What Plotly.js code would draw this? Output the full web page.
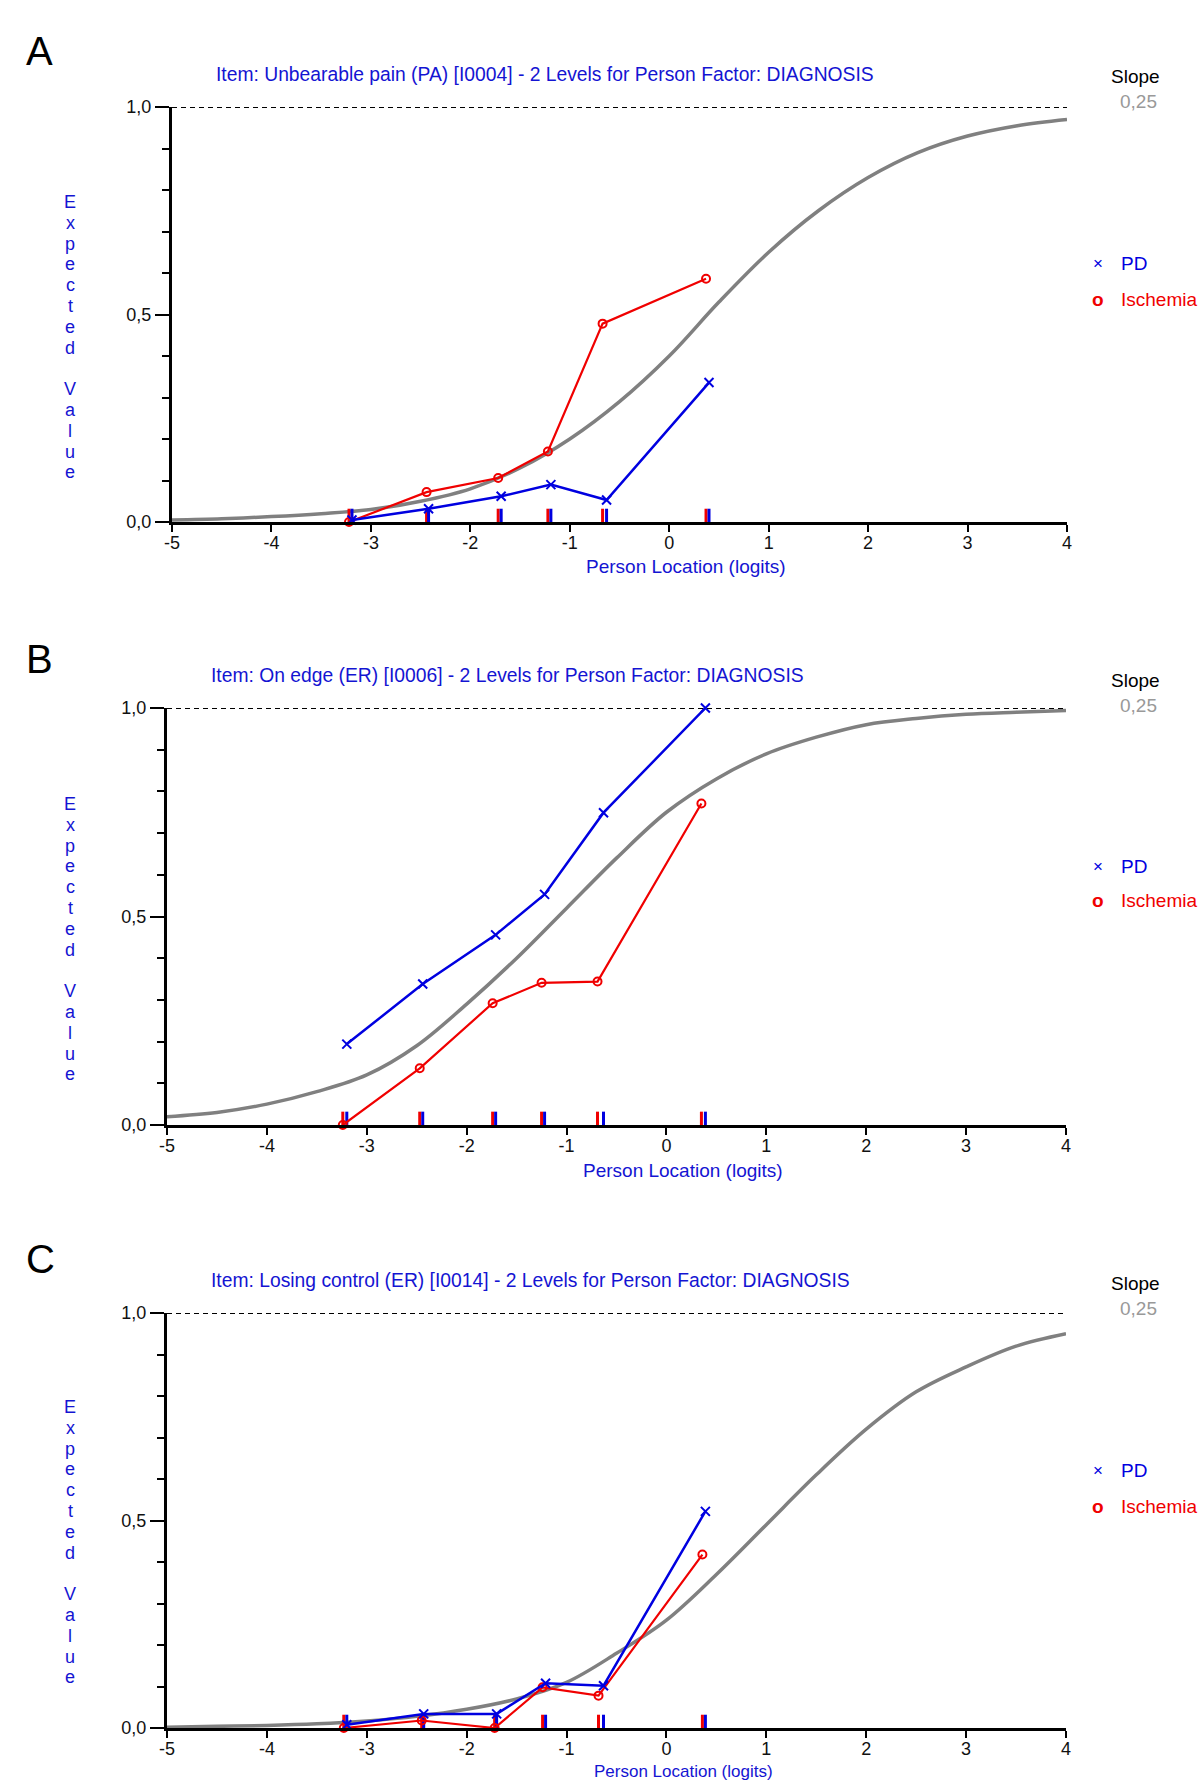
<!DOCTYPE html>
<html><head><meta charset="utf-8">
<script src="https://cdn.plot.ly/plotly-3.0.1.min.js"></script>
<style>html,body{margin:0;padding:0;background:#fff}#chart{width:1200px;height:1781px}</style>
</head><body><div id="chart"></div>
<script>
// ---------- data ----------
const xTickVals = [-5, -4, -3, -2, -1, 0, 1, 2, 3, 4];
const xTickLabels = ["-5", "-4", "-3", "-2", "-1", "0", "1", "2", "3", "4"];
const yTickVals = [0, 0.5, 1];
const yTickLabels = ["0,0", "0,5", "1,0"];
const panelLetters = ["A", "B", "C"];
const itemTitles = [
  "Item: Unbearable pain (PA) [I0004] - 2 Levels for Person Factor: DIAGNOSIS",
  "Item: On edge (ER) [I0006] - 2 Levels for Person Factor: DIAGNOSIS",
  "Item: Losing control (ER) [I0014] - 2 Levels for Person Factor: DIAGNOSIS"
];
const groupNames = ["PD", "Ischemia"];
const slopeLabel = "Slope";
const slopeValue = "0,25";
const xAxisTitle = "Person Location (logits)";
const yAxisTitle = "Expected Value";

// expected-value curves
const curveX = [-5, -4.5, -4, -3.5, -3, -2.5, -2, -1.5, -1, -0.5, 0, 0.5, 1, 1.5, 2, 2.5, 3, 3.5, 4];
const curveA = [0.005, 0.008, 0.013, 0.02, 0.03, 0.05, 0.08, 0.13, 0.2, 0.29, 0.40, 0.53, 0.65, 0.75, 0.83, 0.89, 0.93, 0.955, 0.97];
const curveB = [0.02, 0.03, 0.05, 0.08, 0.12, 0.19, 0.29, 0.40, 0.52, 0.64, 0.75, 0.83, 0.89, 0.93, 0.96, 0.975, 0.985, 0.99, 0.994];
const curveC = [0.002, 0.004, 0.006, 0.01, 0.017, 0.028, 0.045, 0.07, 0.11, 0.18, 0.26, 0.37, 0.49, 0.61, 0.72, 0.81, 0.87, 0.92, 0.95];

// class-interval observed means
const pdXA = [-3.19, -2.42, -1.69, -1.19, -0.63, 0.40];
const pdYA = [0.005, 0.032, 0.062, 0.090, 0.053, 0.336];
const isXA = [-3.22, -2.44, -1.72, -1.22, -0.67, 0.37];
const isYA = [0.0, 0.072, 0.106, 0.170, 0.478, 0.586];

const pdXB = [-3.20, -2.44, -1.71, -1.22, -0.63, 0.39];
const pdYB = [0.194, 0.338, 0.456, 0.553, 0.749, 1.0];
const isXB = [-3.24, -2.47, -1.74, -1.25, -0.69, 0.35];
const isYB = [0.0, 0.136, 0.292, 0.341, 0.344, 0.771];

const pdXC = [-3.20, -2.43, -1.70, -1.21, -0.63, 0.39];
const pdYC = [0.008, 0.034, 0.034, 0.108, 0.102, 0.522];
const isXC = [-3.23, -2.45, -1.72, -1.24, -0.68, 0.36];
const isYC = [0.0, 0.018, 0.0, 0.098, 0.078, 0.418];

// ---------- drawing ----------
const W = 1200, H = 1781;
const px = v => v / W;
const py = v => 1 - v / H;
const FONT = "Liberation Sans, Arial, sans-serif";
const BLUE = "#0000e0", RED = "#f00000", GRAY = "#808080", TBLUE = "#1414d2";

const panels = [
  {curve: curveA, pdX: pdXA, pdY: pdYA, isX: isXA, isY: isYA, xl: 172, xr: 1067, y0: 522, y1: 107,
   titleY: 74, titleX: 214, letterY: 51, slopeY: 77, valY: 102, pdLegY: 264, isLegY: 299, ytTop: 202, xtY: 566, xtX: 686, xtSize: 19},
  {curve: curveB, pdX: pdXB, pdY: pdYB, isX: isXB, isY: isYB, xl: 167, xr: 1066, y0: 1125, y1: 708,
   titleY: 675, titleX: 209, letterY: 659, slopeY: 680, valY: 705, pdLegY: 866, isLegY: 901, ytTop: 804, xtY: 1170, xtX: 683, xtSize: 19},
  {curve: curveC, pdX: pdXC, pdY: pdYC, isX: isXC, isY: isYC, xl: 167, xr: 1066, y0: 1728, y1: 1313,
   titleY: 1280, titleX: 209, letterY: 1259, slopeY: 1283, valY: 1308, pdLegY: 1470, isLegY: 1506, ytTop: 1407, xtY: 1771, xtX: 683, xtSize: 17}
];

const traces = [];
const layout = {
  width: W, height: H,
  margin: {l: 0, r: 0, t: 0, b: 0},
  paper_bgcolor: "#fff", plot_bgcolor: "#fff",
  showlegend: false,
  separators: ", ",
  font: {family: FONT, size: 18, color: "#000"},
  annotations: [], shapes: []
};

function rug(xs) {
  const rx = [], ry = [];
  xs.forEach(x => { rx.push(x, x, null); ry.push(0, 0.032, null); });
  return {rx, ry};
}

panels.forEach((p, i) => {
  const sfx = i === 0 ? "" : String(i + 1);
  const xa = "x" + sfx, ya = "y" + sfx;
  layout["xaxis" + sfx] = {
    domain: [px(p.xl), px(p.xr)], range: [-5, 4], anchor: ya,
    showline: true, linewidth: 3, linecolor: "#000", zeroline: false, showgrid: false,
    ticks: "outside", ticklen: 7, tickwidth: 2, tickcolor: "#000", ticklabelstandoff: -5,
    tickvals: xTickVals, ticktext: xTickLabels, tickfont: {size: 18, color: "#111"}
  };
  layout["yaxis" + sfx] = {
    domain: [py(p.y0), py(p.y1)], range: [0, 1], anchor: xa,
    showline: true, linewidth: 3, linecolor: "#000", zeroline: false, showgrid: false,
    ticks: "outside", ticklen: 14, tickwidth: 2, tickcolor: "#000",
    tickvals: yTickVals, ticktext: yTickLabels, tickfont: {size: 18, color: "#111"},
    minor: {dtick: 0.1, ticks: "outside", ticklen: 7, tickwidth: 2, tickcolor: "#000", showgrid: false}
  };
  // dashed line at 1.0
  layout.shapes.push({type: "line", xref: xa, yref: ya, x0: -5, x1: 4, y0: 1, y1: 1,
    line: {color: "#000", width: 2, dash: "5px,4px"}});

  // expected curve
  traces.push({x: curveX, y: p.curve, xaxis: xa, yaxis: ya, type: "scatter", mode: "lines",
    line: {color: GRAY, width: 3.5, shape: "spline"}, hoverinfo: "skip", cliponaxis: false});

  // rug marks
  const r1 = rug(p.isX), r2 = rug(p.pdX);
  traces.push({x: r1.rx, y: r1.ry, xaxis: xa, yaxis: ya, mode: "lines", line: {color: RED, width: 3}, cliponaxis: false, hoverinfo: "skip"});
  traces.push({x: r2.rx, y: r2.ry, xaxis: xa, yaxis: ya, mode: "lines", line: {color: BLUE, width: 3}, cliponaxis: false, hoverinfo: "skip"});

  // observed means
  traces.push({x: p.isX, y: p.isY, xaxis: xa, yaxis: ya, mode: "lines+markers", name: groupNames[1],
    line: {color: RED, width: 2.2}, marker: {symbol: "circle-open", size: 8, color: RED, line: {width: 2, color: RED}}, cliponaxis: false});
  traces.push({x: p.pdX, y: p.pdY, xaxis: xa, yaxis: ya, mode: "lines+markers", name: groupNames[0],
    line: {color: BLUE, width: 2.5}, marker: {symbol: "x-thin-open", size: 9, color: BLUE, line: {width: 2, color: BLUE}}, cliponaxis: false});

  const A = layout.annotations;
  A.push({xref: "paper", yref: "paper", x: px(24), y: py(p.letterY), xanchor: "left", yanchor: "middle",
    text: panelLetters[i], showarrow: false, font: {size: 40, color: "#000"}});
  A.push({xref: "paper", yref: "paper", x: px(p.titleX), y: py(p.titleY), xanchor: "left", yanchor: "middle",
    text: itemTitles[i], showarrow: false, font: {size: 19.3, color: TBLUE}});
  A.push({xref: "paper", yref: "paper", x: px(1135), y: py(p.slopeY), xanchor: "center", yanchor: "middle",
    text: slopeLabel, showarrow: false, font: {size: 19, color: "#000"}});
  A.push({xref: "paper", yref: "paper", x: px(1138), y: py(p.valY), xanchor: "center", yanchor: "middle",
    text: slopeValue, showarrow: false, font: {size: 19, color: "#999"}});
  A.push({xref: "paper", yref: "paper", x: px(1098), y: py(p.pdLegY), xanchor: "center", yanchor: "middle",
    text: "×", showarrow: false, font: {size: 17, color: BLUE}});
  A.push({xref: "paper", yref: "paper", x: px(1119), y: py(p.pdLegY), xanchor: "left", yanchor: "middle",
    text: groupNames[0], showarrow: false, font: {size: 19, color: BLUE}});
  A.push({xref: "paper", yref: "paper", x: px(1098), y: py(p.isLegY), xanchor: "center", yanchor: "middle",
    text: "<b>o</b>", showarrow: false, font: {size: 19, color: RED}});
  A.push({xref: "paper", yref: "paper", x: px(1119), y: py(p.isLegY), xanchor: "left", yanchor: "middle",
    text: groupNames[1], showarrow: false, font: {size: 19, color: RED}});
  A.push({xref: "paper", yref: "paper", x: px(p.xtX), y: py(p.xtY), xanchor: "center", yanchor: "middle",
    text: xAxisTitle, showarrow: false, font: {size: p.xtSize, color: TBLUE}});
  // stacked vertical letters of the y-axis title
  yAxisTitle.split("").forEach((c, k) => {
    if (c === " ") return;
    A.push({xref: "paper", yref: "paper", x: px(70), y: py(p.ytTop + k * 20.8), xanchor: "center", yanchor: "middle",
      text: c, showarrow: false, font: {size: 18, color: TBLUE}});
  });
});

Plotly.newPlot("chart", traces, layout, {displayModeBar: false, staticPlot: true});
</script>
</body></html>
